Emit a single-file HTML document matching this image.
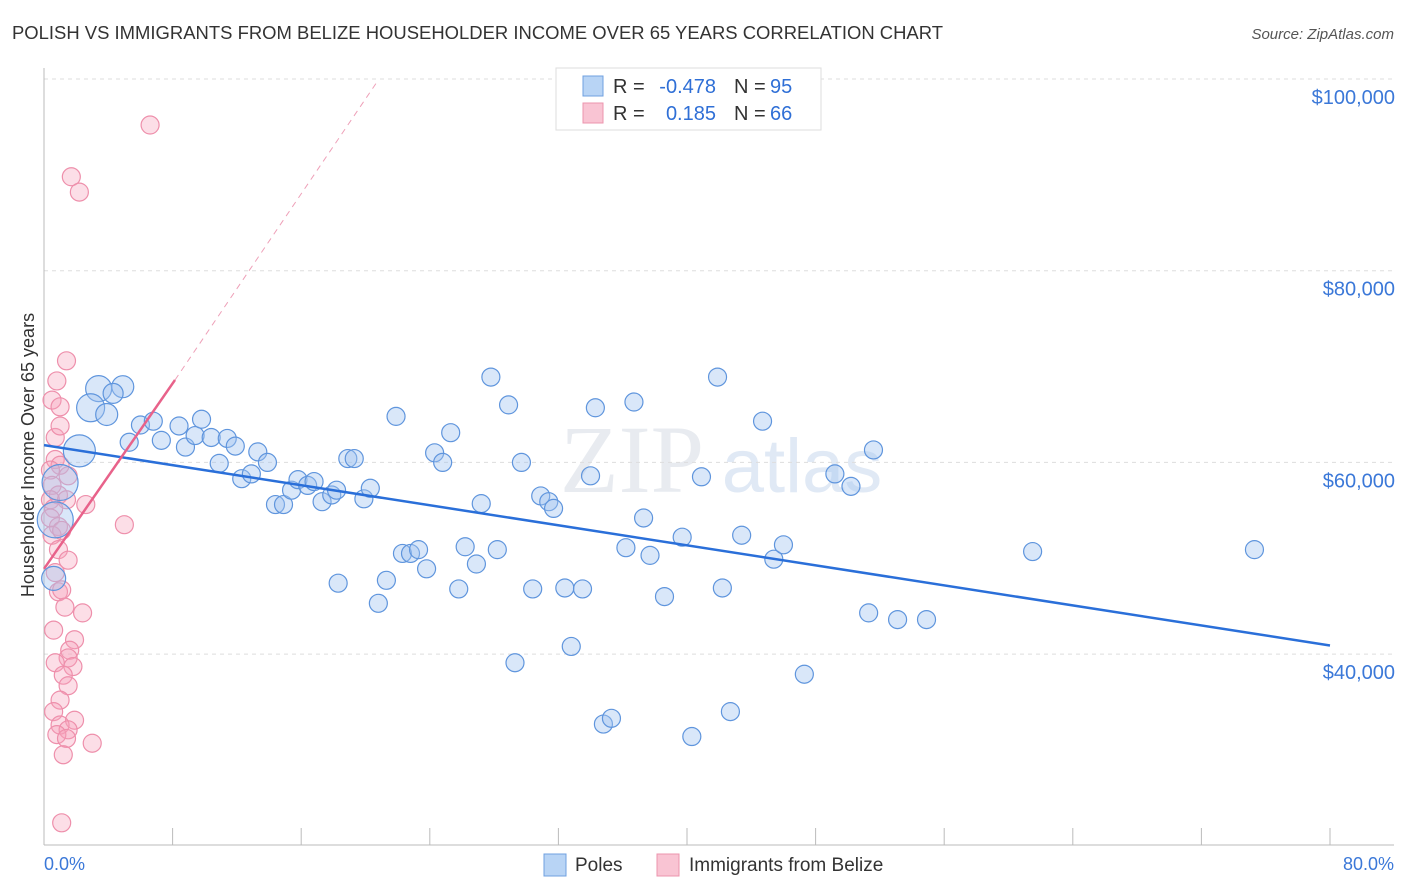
<!DOCTYPE html>
<html><head><meta charset="utf-8"><style>
body{margin:0;background:#fff;font-family:"Liberation Sans",sans-serif;}
#wrap{position:relative;width:1406px;height:892px;overflow:hidden}
</style></head><body>
<div id="wrap">
<svg id="svg" width="1406" height="892" xmlns="http://www.w3.org/2000/svg">
<text x="12" y="39" font-size="18" fill="#333" textLength="931" lengthAdjust="spacingAndGlyphs">POLISH VS IMMIGRANTS FROM BELIZE HOUSEHOLDER INCOME OVER 65 YEARS CORRELATION CHART</text>
<text x="1394" y="39" font-size="15" fill="#555" text-anchor="end" font-style="italic">Source: ZipAtlas.com</text>
<text x="34" y="455" font-size="18" fill="#333" text-anchor="middle" transform="rotate(-90 34 455)">Householder Income Over 65 years</text>
<text x="632" y="492" font-size="96" fill="#e8ebf0" font-family="Liberation Serif,serif" text-anchor="middle">ZIP</text>
<text x="802" y="492" font-size="76" fill="#e0e9f5" text-anchor="middle">atlas</text>
<g id="grid"></g><g id="axes"></g><g id="pts"></g><g id="lines"></g>
<g>
<rect x="556" y="68" width="265" height="62" fill="#fff" stroke="#ddd"/>
<rect x="583" y="76" width="20" height="20" fill="#b8d4f5" stroke="#6fa0e0"/>
<rect x="583" y="103" width="20" height="20" fill="#f9c4d3" stroke="#ec94ae"/>
<text x="613" y="93" font-size="20" fill="#333">R =</text>
<text x="716" y="93" font-size="20" fill="#2f6fd6" text-anchor="end">-0.478</text>
<text x="734" y="93" font-size="20" fill="#333">N =</text>
<text x="770" y="93" font-size="20" fill="#2f6fd6">95</text>
<text x="613" y="120" font-size="20" fill="#333">R =</text>
<text x="716" y="120" font-size="20" fill="#2f6fd6" text-anchor="end">0.185</text>
<text x="734" y="120" font-size="20" fill="#333">N =</text>
<text x="770" y="120" font-size="20" fill="#2f6fd6">66</text>
</g>
<g>
<rect x="544" y="854" width="22" height="22" fill="#b8d4f5" stroke="#6fa0e0"/>
<text x="575" y="871" font-size="19" fill="#333">Poles</text>
<rect x="657" y="854" width="22" height="22" fill="#f9c4d3" stroke="#ec94ae"/>
<text x="689" y="871" font-size="19" fill="#333">Immigrants from Belize</text>
</g>
<text x="44" y="870" font-size="18" fill="#3b78d8">0.0%</text>
<text x="1394" y="870" font-size="18" fill="#3b78d8" text-anchor="end">80.0%</text>
</svg>
</div>
<script>
const yTicks=[100000,80000,60000,40000];
const yTickLabels=["$100,000","$80,000","$60,000","$40,000"];
const xTicks=[0,8,16,24,32,40,48,56,64,72,80];
const polesX=[3.4,4.9,4.3,2.9,3.9,2.2,1.0,0.7,0.6,6.0,6.8,5.3,7.3,8.4,8.8,9.4,9.8,10.4,11.4,11.9,10.9,12.3,12.9,13.3,13.9,14.4,14.9,15.4,15.8,16.4,16.8,17.3,17.9,18.2,18.9,19.3,19.9,20.3,18.3,20.8,21.3,21.9,22.3,22.8,23.3,23.8,24.3,24.8,25.3,25.8,26.2,26.9,27.2,27.8,28.2,28.9,29.3,29.7,30.4,30.9,31.4,31.7,32.4,32.8,33.5,34.0,34.3,34.8,35.3,36.2,36.7,37.3,37.7,38.6,39.7,40.3,40.9,41.9,42.2,42.7,43.4,44.7,45.4,46.0,47.3,49.2,50.2,51.3,51.6,53.1,54.9,61.5,75.3];
const polesY=[67.7,67.9,67.2,65.7,65.0,61.2,57.9,54.0,47.9,63.9,64.3,62.1,62.3,63.8,61.6,62.8,64.5,62.6,62.5,61.7,59.9,58.3,58.8,61.1,60.0,55.6,55.6,57.1,58.2,57.6,58.0,55.9,56.6,57.1,60.4,60.4,56.2,57.3,47.4,45.3,47.7,64.8,50.5,50.5,50.9,48.9,61.0,60.0,63.1,46.8,51.2,49.4,55.7,68.9,50.9,66.0,39.1,60.0,46.8,56.5,55.9,55.2,46.9,40.8,46.8,58.6,65.7,32.7,33.3,51.1,66.3,54.2,50.3,46.0,52.2,31.4,58.5,68.9,46.9,34.0,52.4,64.3,49.9,51.4,37.9,58.8,57.5,44.3,61.3,43.6,43.6,50.7,50.9];
const polesR=[13,11,10,14,11,16,18,18,12];
const belizeX=[6.6,1.7,2.2,1.4,0.8,0.5,1.0,0.7,1.0,0.7,1.0,0.4,1.5,0.5,0.9,0.4,1.4,0.6,2.6,0.4,0.9,0.5,1.1,5.0,0.9,1.5,0.7,0.9,1.1,2.4,1.3,0.6,1.9,1.6,1.5,0.7,1.8,1.2,1.5,1.0,0.6,1.9,1.0,1.5,0.8,1.4,3.0,1.2,1.1];
const belizeY=[95.2,89.8,88.2,70.6,68.5,66.5,65.8,62.6,63.8,60.3,59.7,59.2,58.6,57.6,56.6,56.1,56.1,55.2,55.6,54.2,53.3,52.4,52.9,53.5,50.9,49.8,48.5,46.5,46.7,44.3,44.9,42.5,41.5,40.4,39.6,39.1,38.7,37.8,36.7,35.2,34.0,33.1,32.6,32.1,31.6,31.2,30.7,29.5,22.4];
const polesTrend=[[0,61.8],[80,40.9]];
const belizeTrend=[[0,48.9],[8.15,68.6]];
const belizeTrendExt=[[8.15,68.6],[20.8,99.9]];

const X=v=>44+v/80*1286;
const Y=v=>79+(100-v)/20*191.7;
const NS="http://www.w3.org/2000/svg";
function mk(tag,attrs,parent){const e=document.createElementNS(NS,tag);for(const k in attrs)e.setAttribute(k,attrs[k]);document.getElementById(parent).appendChild(e);return e;}
yTicks.forEach((t,i)=>{
  const g=mk('line',{x1:44,x2:1394,y1:Y(t/1000),y2:Y(t/1000),stroke:'#ddd','stroke-dasharray':'4,4'},'grid');
  
  
  const l=mk('text',{x:1395,y:Y(t/1000)+25,'font-size':20,fill:'#3b78d8','text-anchor':'end'},'grid');
  l.textContent=yTickLabels[i];
  
  
});
const ax=mk('line',{x1:44,x2:44,y1:68,y2:845,stroke:'#bbb'},'axes');


const bx=mk('line',{x1:44,x2:1394,y1:845,y2:845,stroke:'#bbb'},'axes');


xTicks.forEach(t=>{
  const e=mk('line',{x1:X(t),x2:X(t),y1:828,y2:845,stroke:'#bbb'},'axes');
  
  
});
belizeX.forEach((x,i)=>{
  const c=mk('circle',{cx:X(x),cy:Y(belizeY[i]),r:9,fill:'rgba(246,160,185,0.35)',stroke:'#ee8fab','stroke-width':1.2},'pts');
  
  
});
polesX.forEach((x,i)=>{
  const c=mk('circle',{cx:X(x),cy:Y(polesY[i]),r:polesR[i]||9,fill:'rgba(160,196,240,0.4)',stroke:'#5f95dd','stroke-width':1.2},'pts');
  
  
});
const pl=mk('line',{x1:X(polesTrend[0][0]),y1:Y(polesTrend[0][1]),x2:X(polesTrend[1][0]),y2:Y(polesTrend[1][1]),stroke:'#2a6fd9','stroke-width':2.5},'lines');


const bl=mk('line',{x1:X(belizeTrend[0][0]),y1:Y(belizeTrend[0][1]),x2:X(belizeTrend[1][0]),y2:Y(belizeTrend[1][1]),stroke:'#e8628a','stroke-width':2.5},'lines');


const be=mk('line',{x1:X(belizeTrendExt[0][0]),y1:Y(belizeTrendExt[0][1]),x2:X(belizeTrendExt[1][0]),y2:Y(belizeTrendExt[1][1]),stroke:'#eea0b8','stroke-width':1,'stroke-dasharray':'6,5'},'lines');


</script>
</body></html>
